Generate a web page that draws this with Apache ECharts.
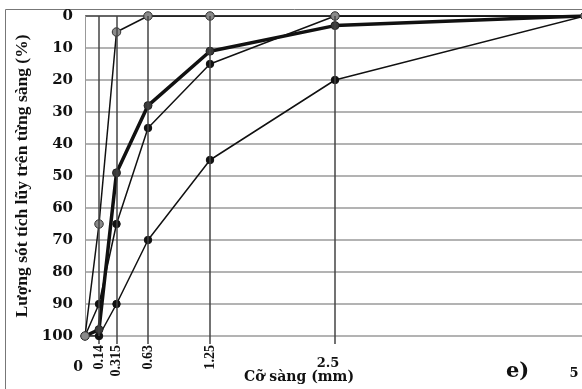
<!DOCTYPE html>
<html>
<head>
<meta charset="utf-8">
<script src="https://cdn.jsdelivr.net/npm/echarts@6/dist/echarts.min.js"></script>
<style>
html,body{margin:0;padding:0;background:#fff;}
#c{width:582px;height:389px;}
</style>
</head>
<body>
<div id="c"></div>
<script>
// Sieve sizes (mm)
const sizes = [0, 0.14, 0.315, 0.63, 1.25, 2.5, 5];
// Cumulative retained (%) for each curve
const sampleFine = [100, 65, 5, 0, 0, 0, 0];      // grey markers
const sampleMain = [100, 98, 49, 28, 11, 3, 0];   // thick curve
const upperLimit = [100, 90, 65, 35, 15, 0, 0];
const lowerLimit = [100, 100, 90, 70, 45, 20, 0];
// Tick labels
const rotatedTicks = [0.14, 0.315, 0.63, 1.25];
const flatTicks = [0, 2.5, 5];
const sieveLines = [0.14, 0.315, 0.63, 1.25, 2.5];
const yTitle = 'Lượng sót tích lũy trên từng sàng (%)';
const xTitle = 'Cỡ sàng (mm)';

const pair = arr => sizes.map((s, i) => [s, arr[i]]);
const serifW = 'DejaVu Serif';
const serifT = 'Liberation Serif';

const chart = echarts.init(document.getElementById('c'), null, {renderer: 'canvas'});
chart.setOption({
  animation: false,
  backgroundColor: '#fff',
  title: {
    text: 'e)', left: 506, top: 361, padding: 0,
    textStyle: {fontFamily: serifW, fontWeight: 'bold', fontSize: 21, color: '#111'}
  },
  graphic: [{
    type: 'rect', left: 3, top: 7, silent: true,
    shape: {width: 700, height: 500},
    style: {fill: 'none', stroke: '#777', lineWidth: 1}
  }],
  grid: {left: 85, top: 16, width: 500, height: 320, containLabel: false, outerBoundsMode: 'none'},
  xAxis: [{
    type: 'value', min: 0, max: 5, position: 'bottom',
    axisLine: {show: false, onZero: false},
    splitLine: {show: false},
    axisTick: {show: true, customValues: sieveLines, length: 8, lineStyle: {color: '#444', width: 1.5}},
    axisLabel: {
      customValues: rotatedTicks, rotate: 90, margin: 9,
      fontFamily: serifT, fontWeight: 'bold', fontSize: 14, color: '#111',
      formatter: v => String(v)
    }
  }, {
    type: 'value', min: 0, max: 5, position: 'bottom',
    axisLine: {show: false, onZero: false},
    splitLine: {show: false},
    axisTick: {show: false},
    axisLabel: {
      customValues: flatTicks, margin: 21, showMinLabel: true, showMaxLabel: true,
      formatter: v => v === 0 ? '{z|0}' : (v === 5 ? '{f|5}' : '{t|' + v + '}'),
      rich: {
        z: {fontFamily: serifW, fontWeight: 'bold', fontSize: 14, color: '#111', padding: [3, 14, 0, 0]},
        t: {fontFamily: serifW, fontWeight: 'bold', fontSize: 13, color: '#111', padding: [0, 14, 0, 0]},
        f: {fontFamily: serifW, fontWeight: 'bold', fontSize: 13, color: '#111', padding: [10, 22, 0, 0]}
      }
    },
    name: xTitle, nameLocation: 'middle', nameGap: 34, nameMoveOverlap: false,
    nameTextStyle: {fontFamily: serifW, fontWeight: 'bold', fontSize: 14, color: '#111', padding: [0, 72, 0, 0]}
  }],
  yAxis: {
    type: 'value', inverse: true, min: 0, max: 100, interval: 10,
    axisLine: {show: true, lineStyle: {color: '#999', width: 1}},
    axisTick: {show: false},
    splitLine: {show: true, lineStyle: {color: ['#333', '#9a9a9a', '#9a9a9a', '#9a9a9a', '#9a9a9a', '#9a9a9a', '#9a9a9a', '#9a9a9a', '#9a9a9a', '#9a9a9a', '#9a9a9a'], width: 1.5}},
    axisLabel: {margin: 12, fontFamily: serifW, fontWeight: 'bold', fontSize: 15, color: '#111'},
    name: yTitle, nameLocation: 'middle', nameRotate: 90, nameGap: 54, nameMoveOverlap: false,
    nameTextStyle: {fontFamily: serifT, fontWeight: 'bold', fontSize: 17.5, color: '#111'}
  },
  series: [{
    name: 'lower', type: 'line', data: pair(lowerLimit),
    symbol: 'circle', symbolSize: 7.5,
    lineStyle: {color: '#111', width: 1.5},
    itemStyle: {color: '#111', borderColor: '#111', borderWidth: 1},
    markLine: {
      silent: true, symbol: 'none', label: {show: false},
      lineStyle: {color: '#444', width: 1.5, type: 'solid'},
      data: sieveLines.map(v => ({xAxis: v}))
    }
  }, {
    name: 'upper', type: 'line', data: pair(upperLimit),
    symbol: 'circle', symbolSize: 7.5,
    lineStyle: {color: '#111', width: 1.5},
    itemStyle: {color: '#111', borderColor: '#111', borderWidth: 1}
  }, {
    name: 'main', type: 'line', data: pair(sampleMain),
    symbol: 'circle', symbolSize: 8,
    lineStyle: {color: '#111', width: 3.5},
    itemStyle: {color: '#3a3a3a', borderColor: '#222', borderWidth: 1}
  }, {
    name: 'fine', type: 'line', data: pair(sampleFine),
    symbol: 'circle', symbolSize: 8.5,
    lineStyle: {color: '#111', width: 1.5},
    itemStyle: {color: '#8a8a8a', borderColor: '#333', borderWidth: 1}
  }]
});
</script>
</body>
</html>
